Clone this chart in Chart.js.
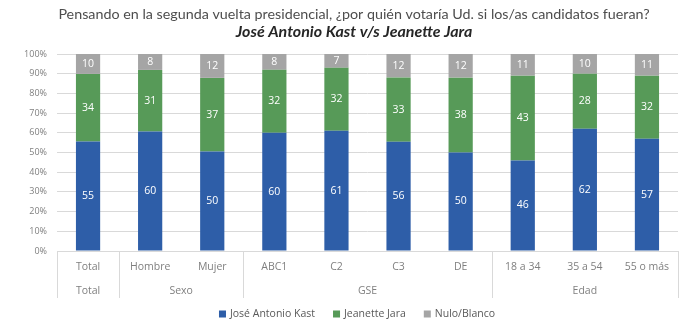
<!DOCTYPE html>
<html lang="es">
<head>
<meta charset="UTF-8">
<script src="https://cdn.jsdelivr.net/npm/chart.js"></script>
<style>
  html, body { margin:0; padding:0; background:#fff; }
  #wrap { width:700px; height:332px; }
</style>
</head>
<body>
<div id="wrap"><canvas id="cvs" width="700" height="332"></canvas></div>
<script>
const categories = ['Total','Hombre','Mujer','ABC1','C2','C3','DE','18 a 34','35 a 54','55 o más'];
const groups = [
  { label: 'Total', from: 0, to: 0 },
  { label: 'Sexo', from: 1, to: 2 },
  { label: 'GSE', from: 3, to: 6 },
  { label: 'Edad', from: 7, to: 9 }
];
const kast  = [55, 60, 50, 60, 61, 56, 50, 46, 62, 57];
const jara  = [34, 31, 37, 32, 32, 33, 38, 43, 28, 32];
const nulo  = [10,  8, 12,  8,  7, 12, 12, 11, 10, 11];
const yTicks = [0,10,20,30,40,50,60,70,80,90,100];
const titleText = 'Pensando en la segunda vuelta presidencial, ¿por quién votaría Ud. si los/as candidatos fueran?';
const subtitleText = 'José Antonio Kast v/s Jeanette Jara';

const FONT = "'Open Sans', sans-serif";

// escala 100%: cada barra se apila a 100
const totals = categories.map((_, i) => kast[i] + jara[i] + nulo[i]);
const pct = arr => arr.map((v, i) => v / totals[i] * 100);

// etiquetas de valor dentro de las barras
const valueLabels = {
  id: 'valueLabels',
  afterDatasetsDraw(chart) {
    const { ctx } = chart;
    ctx.save();
    ctx.font = `10.5px ${FONT}`;
    ctx.fillStyle = '#fff';
    ctx.textAlign = 'center';
    ctx.textBaseline = 'middle';
    chart.data.datasets.forEach((ds, di) => {
      chart.getDatasetMeta(di).data.forEach((bar, i) => {
        const p = bar.getCenterPoint();
        ctx.fillText(ds.raw[i], p.x, p.y);
      });
    });
    ctx.restore();
  }
};

// titulo, tabla de grupos y leyenda
const extras = {
  id: 'extras',
  afterDraw(chart) {
    const { ctx, chartArea } = chart;
    const x = chart.scales.x;
    const step = x.getPixelForValue(1) - x.getPixelForValue(0);
    const top = chartArea.bottom, bottom = top + 47;
    ctx.save();

    // titulos
    ctx.textAlign = 'center';
    ctx.textBaseline = 'middle';
    ctx.fillStyle = '#4d4d4d';
    ctx.font = "14.3px Lato, sans-serif";
    ctx.fillText(titleText, 354, 14);
    ctx.fillStyle = '#262626';
    ctx.font = "italic bold 16px Lato, sans-serif";
    ctx.fillText(subtitleText, 354, 32);

    // grupos
    ctx.strokeStyle = '#d9d9d9';
    ctx.lineWidth = 1;
    ctx.font = `10.5px ${FONT}`;
    ctx.fillStyle = '#7f7f7f';
    const edges = [];
    groups.forEach(g => {
      const l = x.getPixelForValue(g.from) - step / 2;
      const r = x.getPixelForValue(g.to) + step / 2;
      edges.push(l, r);
      ctx.fillText(g.label, (l + r) / 2, top + 40);
    });
    [...new Set(edges.map(Math.round))].forEach(e => {
      ctx.beginPath();
      ctx.moveTo(e + 0.5, top);
      ctx.lineTo(e + 0.5, bottom);
      ctx.stroke();
    });

    // leyenda
    const ds = chart.data.datasets;
    ctx.font = `10.5px ${FONT}`;
    ctx.textAlign = 'left';
    const box = 7, gapTxt = 4, gapItem = 18;
    const widths = ds.map(d => box + gapTxt + ctx.measureText(d.label).width);
    const total = widths.reduce((a, b) => a + b, 0) + gapItem * (ds.length - 1);
    let lx = 357 - total / 2;
    const ly = 314;
    ds.forEach((d, i) => {
      ctx.fillStyle = d.backgroundColor;
      ctx.fillRect(lx, ly - box / 2, box, box);
      ctx.fillStyle = '#595959';
      ctx.fillText(d.label, lx + box + gapTxt, ly);
      lx += widths[i] + gapItem;
    });
    ctx.restore();
  }
};

new Chart(document.getElementById('cvs'), {
  type: 'bar',
  data: {
    labels: categories,
    datasets: [
      { label: 'José Antonio Kast', data: pct(kast), raw: kast, backgroundColor: '#2E5EA8' },
      { label: 'Jeanette Jara', data: pct(jara), raw: jara, backgroundColor: '#579A58' },
      { label: 'Nulo/Blanco', data: pct(nulo), raw: nulo, backgroundColor: '#A5A5A5' }
    ]
  },
  options: {
    responsive: false,
    animation: false,
    layout: { padding: { left: 0, right: 22, top: 54, bottom: 34 } },
    datasets: { bar: { barPercentage: 0.39, categoryPercentage: 1 } },
    scales: {
      x: {
        stacked: true,
        grid: { display: false, drawTicks: false },
        border: { color: '#d9d9d9' },
        ticks: { color: '#7f7f7f', font: { family: FONT, size: 10.5 }, padding: 10, maxRotation: 0 },
        afterFit: s => { s.height = 47; }
      },
      y: {
        stacked: true,
        min: 0, max: 100,
        afterBuildTicks: s => { s.ticks = yTicks.map(v => ({ value: v })); },
        grid: { color: '#d9d9d9', drawTicks: false },
        border: { display: false },
        ticks: { color: '#7f7f7f', font: { family: FONT, size: 9 }, padding: 10, callback: v => v + '%' },
        afterFit: s => { s.width = 57; }
      }
    },
    plugins: {
      title: { display: false },
      legend: { display: false },
      tooltip: { enabled: false }
    }
  },
  plugins: [valueLabels, extras]
});
</script>
</body>
</html>
